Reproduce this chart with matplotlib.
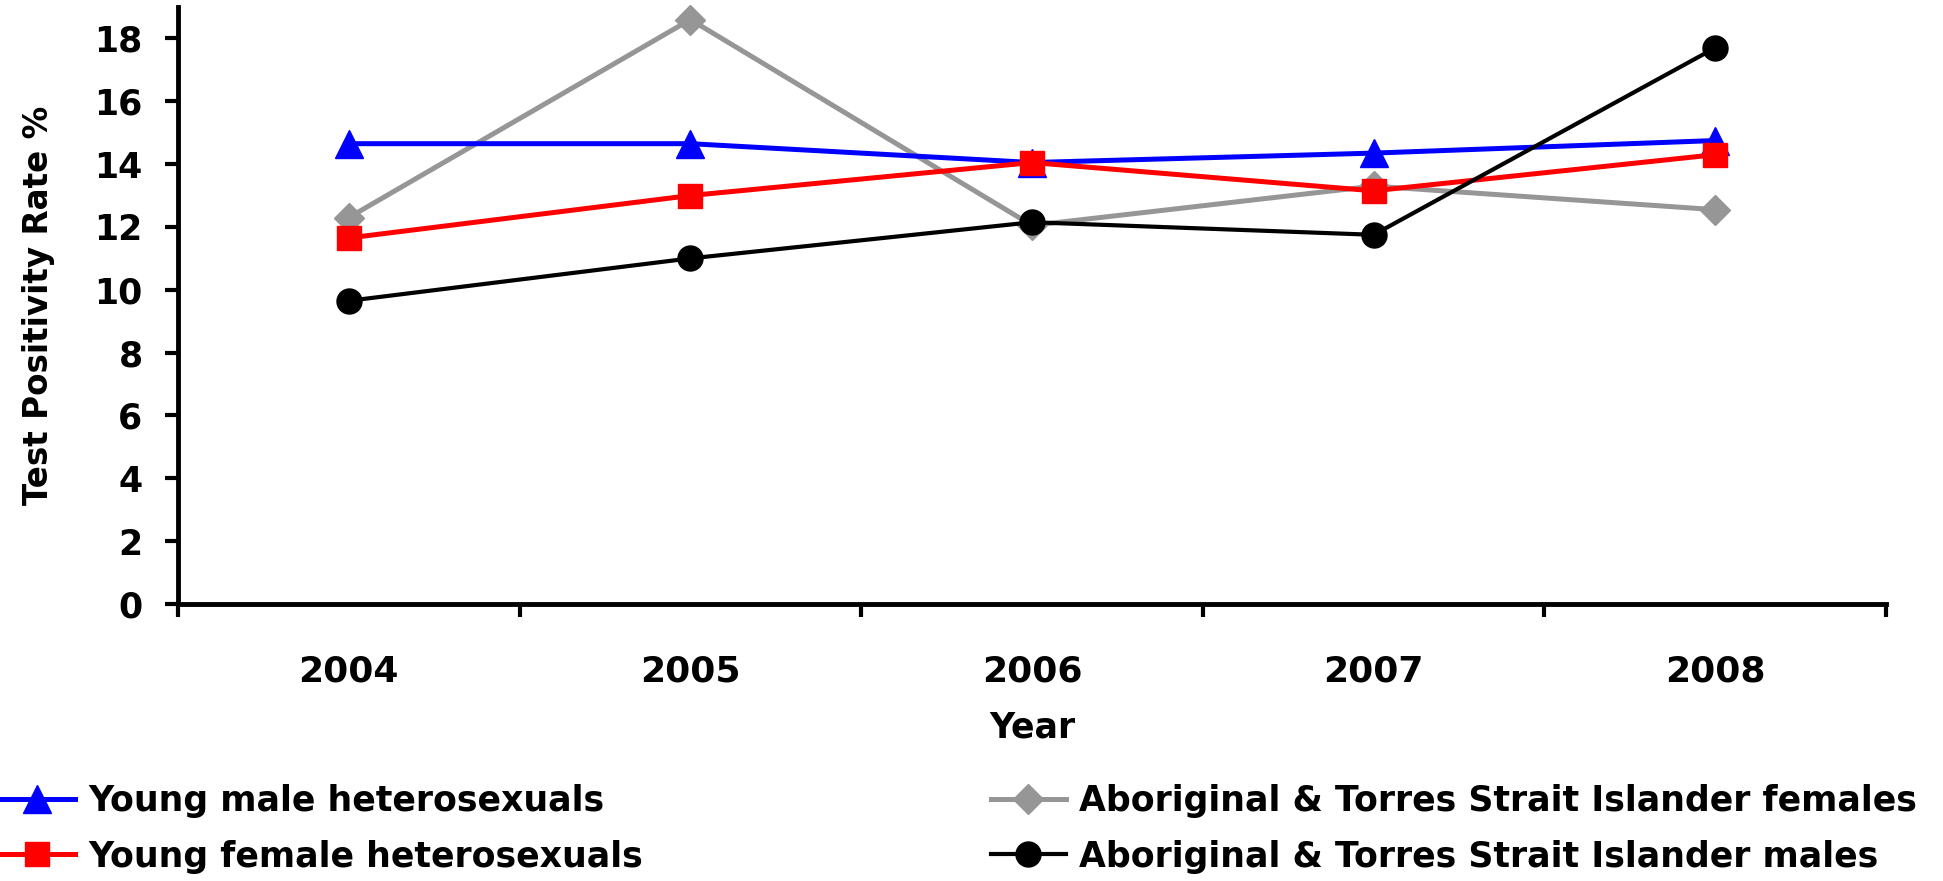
import matplotlib
matplotlib.use("Agg")
import matplotlib.pyplot as plt
from matplotlib.ticker import FixedLocator, NullFormatter, FixedFormatter

plt.rcParams['font.family'] = ['DejaVu Sans']
plt.rcParams['font.weight'] = 'bold'

years = ['2004', '2005', '2006', '2007', '2008']
young_male = [14.65, 14.65, 14.05, 14.35, 14.75]
young_female = [11.65, 13.0, 14.05, 13.15, 14.3]
atsi_female = [12.3, 18.6, 12.05, 13.3, 12.55]
atsi_male = [9.65, 11.0, 12.15, 11.75, 17.7]
yticks = [0, 2, 4, 6, 8, 10, 12, 14, 16, 18]

W, H = 1943, 881
fig = plt.figure(figsize=(W / 100, H / 100), dpi=100)
ax = fig.add_axes([178 / W, 1 - 604 / H, (1886 - 178) / W, (604 - 7) / H])

x = list(range(1, len(years) + 1))
xfs = 26
yfs = 25
lfs = 25

l_g, = ax.plot(x, atsi_female, color='#969696', lw=3.6, marker='D', ms=15,
               label='Aboriginal & Torres Strait Islander females', zorder=2, clip_on=False)
l_b, = ax.plot(x, young_male, color='#0000FF', lw=3.6, marker='^', ms=20,
               label='Young male heterosexuals', zorder=3, clip_on=False)
l_r, = ax.plot(x, young_female, color='#FF0000', lw=3.6, marker='s', ms=17,
               label='Young female heterosexuals', zorder=4, clip_on=False)
l_k, = ax.plot(x, atsi_male, color='#000000', lw=3.0, marker='o', ms=18,
               label='Aboriginal & Torres Strait Islander males', zorder=5, clip_on=False)

ax.set_xlim(0.5, len(years) + 0.5)
ax.set_ylim(0, 19)
ax.set_yticks(yticks)
ax.set_yticklabels([str(t) for t in yticks], fontsize=yfs, fontweight='bold')

ax.xaxis.set_major_locator(FixedLocator([i + 0.5 for i in range(0, len(years) + 1)]))
ax.xaxis.set_major_formatter(NullFormatter())
ax.xaxis.set_minor_locator(FixedLocator(x))
ax.xaxis.set_minor_formatter(FixedFormatter(years))
ax.tick_params(axis='x', which='major', direction='out', length=9.5, width=3)
ax.tick_params(axis='x', which='minor', length=0, pad=36, labelsize=xfs)
ax.tick_params(axis='y', direction='out', length=9.5, width=3, pad=16)
for lab in ax.xaxis.get_minorticklabels():
    lab.set_fontweight('bold')

for s in ['top', 'right']:
    ax.spines[s].set_visible(False)
for s in ['left', 'bottom']:
    ax.spines[s].set_linewidth(3.5)

ax.set_xlabel('Year', fontsize=lfs, fontweight='bold', labelpad=16)
ax.set_ylabel('Test Positivity Rate %', fontsize=23.5, fontweight='bold', labelpad=28)

leg_kw = dict(frameon=False, handlelength=2.15, handletextpad=0.38,
              labelspacing=0.62, borderpad=0, borderaxespad=0,
              prop={'weight': 'bold', 'size': lfs})
fig.legend(handles=[l_b, l_r], loc='upper left', bbox_to_anchor=(0 / W, 1 - 784 / H), **leg_kw)
fig.legend(handles=[l_g, l_k], loc='upper left', bbox_to_anchor=(991 / W, 1 - 784 / H), **leg_kw)

fig.savefig('out.png', dpi=100)
